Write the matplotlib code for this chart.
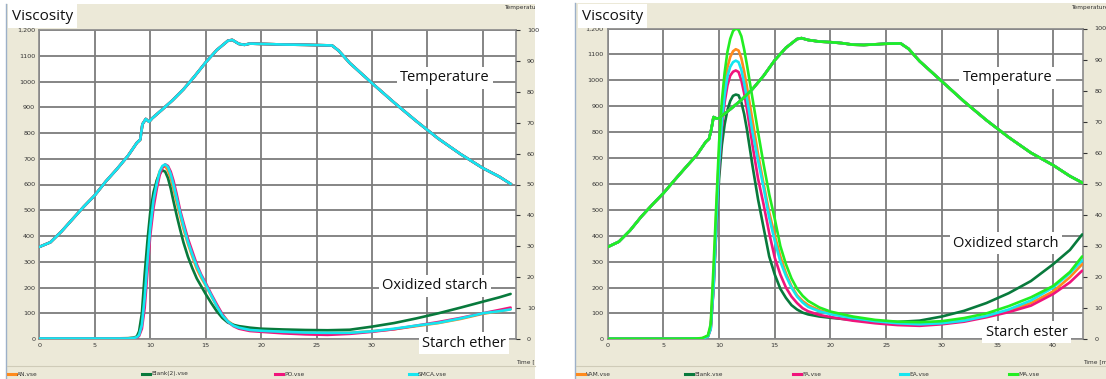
import matplotlib
matplotlib.use("Agg")
import matplotlib.pyplot as plt
from matplotlib.patches import Rectangle
from matplotlib.lines import Line2D

W, H = 1106, 379

# ---- left instrument run: viscosity (BU) against time (min) ----
time_l = [0, 2, 4, 6, 8, 8.5, 8.8, 9.0, 9.25, 9.5, 9.75, 10.0, 10.3, 10.6, 10.85, 11.1,
          11.35, 11.6, 11.85, 12.1, 12.4, 12.7, 13.0, 13.4, 13.8, 14.2, 14.6, 15.0, 15.5,
          16.0, 16.5, 17.0, 17.5, 18.0, 19.0, 20.0, 22.0, 24.0, 26.0, 28.0, 30.0, 32.0,
          34.0, 36.0, 38.0, 40.0, 41.5, 42.5]
an_visc = [2, 2, 2, 2, 3, 4, 8, 20, 70, 190, 330, 450, 550, 615, 650, 668,
           670, 655, 625, 585, 530, 478, 428, 370, 320, 272, 238, 208, 168,
           128, 95, 70, 55, 45, 36, 31, 27, 25, 24, 24, 30, 38,
           50, 62, 78, 98, 108, 116]
blank2_visc = [2, 2, 2, 2, 3, 5, 10, 30, 100, 250, 380, 490, 570, 617, 642, 655,
               650, 625, 585, 535, 478, 425, 375, 320, 275, 235, 205, 175, 140,
               108, 82, 64, 55, 50, 44, 40, 37, 35, 34, 36, 48, 62,
               80, 100, 122, 145, 162, 175]
po_visc = [2, 2, 2, 2, 2, 3, 5, 12, 40, 120, 260, 400, 510, 585, 635, 665,
           678, 672, 650, 615, 560, 500, 452, 390, 340, 290, 250, 218, 175,
           135, 97, 67, 50, 40, 31, 28, 22, 18, 16, 20, 28, 38,
           52, 66, 82, 100, 113, 122]
smca_visc = [2, 2, 2, 2, 2, 4, 7, 16, 55, 160, 300, 430, 540, 605, 650, 672,
             678, 668, 640, 600, 545, 490, 440, 378, 328, 282, 245, 212, 170,
             128, 92, 68, 52, 44, 35, 32, 28, 25, 24, 24, 30, 40,
             52, 63, 80, 100, 108, 115]

temp_time_l = [0, 1, 2, 3, 4, 5, 6, 7, 8, 8.8, 9.1, 9.3, 9.6, 9.9, 10.2, 11, 12, 13,
               14, 15, 16, 17, 17.4, 18, 18.5, 19, 20, 22, 24, 26.4, 27, 28, 30, 32,
               34, 36, 38, 40, 41.5, 42.5]
temp_l = [29.8, 31.3, 34.8, 38.8, 42.8, 46.5, 51.0, 55.0, 59.3, 63.5, 64.5, 69.5, 71.2,
          70.3, 71.5, 74.0, 77.2, 80.8, 85.0, 89.5, 93.5, 96.5, 96.8, 95.5, 95.2, 95.6,
          95.5, 95.3, 95.2, 95.0, 93.3, 89.3, 82.8, 76.5, 70.5, 64.8, 59.8, 55.3, 52.5, 50.2]

# ---- right instrument run ----
time_r = [0, 2, 4, 6, 8, 8.5, 9.0, 9.25, 9.5, 9.75, 10.0, 10.25, 10.5, 10.75, 11.0,
          11.25, 11.5, 11.75, 12.0, 12.25, 12.5, 12.75, 13.0, 13.5, 14.0, 14.5, 15.0,
          15.5, 16.0, 16.5, 17.0, 17.5, 18.0, 19.0, 20.0, 22.0, 24.0, 26.0, 28.0, 30.0,
          32.0, 34.0, 36.0, 38.0, 40.0, 41.5, 42.6]
vam_visc = [2, 2, 2, 2, 3, 4, 12, 50, 240, 490, 720, 880, 980, 1050, 1090,
            1112, 1120, 1115, 1085, 1035, 975, 910, 845, 715, 600, 490, 400,
            320, 255, 205, 170, 148, 132, 112, 100, 85, 72, 64, 60, 64,
            72, 88, 110, 140, 185, 240, 290]
blank_visc = [2, 2, 2, 2, 3, 3, 12, 45, 200, 420, 620, 750, 830, 885, 920,
              940, 945, 942, 915, 870, 810, 740, 670, 540, 430, 320, 250,
              195, 160, 132, 115, 103, 96, 88, 83, 75, 70, 67, 72, 88,
              110, 140, 178, 225, 290, 345, 405]
fa_visc = [2, 2, 2, 2, 3, 3, 10, 40, 190, 440, 660, 815, 915, 980, 1018,
           1033, 1038, 1032, 1000, 950, 890, 820, 750, 620, 520, 410, 315,
           250, 200, 165, 140, 120, 108, 94, 86, 72, 62, 55, 52, 58,
           68, 85, 105, 130, 175, 220, 265]
ea_visc = [2, 2, 2, 2, 3, 3, 10, 40, 200, 450, 680, 840, 945, 1015, 1052,
           1070, 1076, 1070, 1040, 990, 930, 865, 800, 690, 585, 470, 380,
           300, 245, 200, 165, 142, 125, 108, 97, 82, 70, 62, 58, 62,
           72, 90, 115, 150, 200, 255, 305]
ma_visc = [2, 2, 2, 2, 3, 5, 15, 60, 280, 520, 760, 920, 1030, 1110, 1160,
           1190, 1200, 1195, 1170, 1120, 1060, 995, 930, 800, 675, 560, 465,
           360, 290, 235, 195, 168, 148, 123, 107, 88, 75, 68, 66, 70,
           82, 100, 128, 162, 206, 260, 320]

temp_time_r = [0, 1, 2, 3, 4, 5, 6, 7, 8, 8.8, 9.1, 9.3, 9.5, 9.8, 10, 11, 12, 13, 14,
               15, 16, 17, 17.4, 18, 19, 20, 21, 22, 23, 24, 25, 26.3, 27, 28, 30, 32,
               34, 36, 38, 40, 41.5, 42.6]
temp_r = [29.7, 31.4, 35.0, 39.4, 43.3, 47.0, 51.2, 55.3, 59.3, 63.5, 64.5, 67.5, 71.5,
          71.0, 71.2, 74.0, 77.0, 80.5, 84.8, 89.8, 93.8, 96.6, 96.9, 96.3, 95.8, 95.6,
          95.3, 94.8, 94.7, 94.9, 95.1, 95.2, 93.5, 89.5, 83.0, 76.5, 70.5, 65.0, 60.0,
          56.0, 52.5, 50.4]

left_names = ["AN.vse", "Blank(2).vse", "PO.vse", "SMCA.vse"]
left_colors = ["#ff8a1c", "#087a3c", "#f0147c", "#14e6f0"]
left_series = [an_visc, blank2_visc, po_visc, smca_visc]

right_names = ["VAM.vse", "Blank.vse", "FA.vse", "EA.vse", "MA.vse"]
right_colors = ["#ff8a1c", "#087a3c", "#f0147c", "#14e6f0", "#22ee22"]
right_series = [vam_visc, blank_visc, fa_visc, ea_visc, ma_visc]

BEIGE = "#ece9d8"
GRID = "#7c7c7c"
SMALL = 4.6
LABEL_FONT = ["Open Sans", "DejaVu Sans"]


def fx(x):
    return x / W


def fy(y):
    return 1 - y / H


fig = plt.figure(figsize=(W / 100, H / 100), dpi=100)
fig.patch.set_facecolor("white")


def panel(x0, x1, top, ax_box, xmax, time, series, names, colors, temp_time, temp,
          legend_x, notes):
    bg = Rectangle((fx(x0), 0), fx(x1 - x0), fy(top), transform=fig.transFigure,
                   facecolor=BEIGE, edgecolor="none", zorder=0)
    fig.add_artist(bg)
    fig.add_artist(Line2D([fx(x0), fx(x0)], [0, fy(top)], color="#9cb0c8", lw=1.0))
    fig.add_artist(Line2D([fx(x0 + 1), fx(x1)], [fy(366), fy(366)], color="#cfcbb8", lw=0.8))

    ax = fig.add_axes(ax_box)
    ax.set_facecolor("white")
    ax.set_xlim(0, xmax)
    ax.set_ylim(0, 1200)
    ax.set_xticks(range(0, 45, 5))
    ax.set_yticks(range(0, 1300, 100))
    ax.set_yticklabels([str(v) for v in range(0, 1200, 100)] + ["1,200"])
    ax.tick_params(length=0, labelsize=SMALL, colors="#333333", pad=3)
    ax.grid(True, color=GRID, lw=1.3)
    for s in ax.spines.values():
        s.set_color("#8a8a8a")
        s.set_linewidth(1.2)

    for vals, c in zip(series, colors):
        ax.plot(time, vals, color=c, lw=1.9, solid_capstyle="round", zorder=3)

    tw = ax.twinx()
    tw.set_ylim(0, 100)
    tw.set_yticks(range(0, 110, 10))
    tw.tick_params(axis="y", length=3, width=0.8, labelsize=SMALL, colors="#333333", pad=5)
    for s in tw.spines.values():
        s.set_visible(False)
    for c in colors:
        tw.plot(temp_time, temp, color=c, lw=1.9, zorder=3)

    for txt, tx, ty in notes:
        ax.text(tx, ty, txt, ha="center", va="center", fontsize=10.5, family=LABEL_FONT,
                color="#111111", zorder=6, clip_on=False,
                bbox=dict(facecolor="white", edgecolor="none", pad=2.5))

    right_edge = ax_box[0] + ax_box[2]
    t1 = fig.text(right_edge - fx(12), fy(8), "Temperature [°C]", fontsize=SMALL - 0.4,
                  color="#333333", va="center", ha="left")
    t1.set_clip_path(bg)
    t2 = fig.text(right_edge, fy(362), "Time [min]", fontsize=SMALL - 0.4,
                  color="#333333", va="center", ha="left")
    t2.set_clip_path(bg)

    for name, c, lx in zip(names, colors, legend_x):
        fig.add_artist(Line2D([fx(lx), fx(lx + 8)], [fy(374), fy(374)], color=c, lw=2.2))
        fig.text(fx(lx + 9), fy(374), name, fontsize=SMALL - 0.4, color="#333333",
                 va="center", ha="left")
    return ax


panel(6, 535, 4, [fx(39.3), fy(339), fx(476.4), 309 / H], 42.96,
      time_l, left_series, left_names, left_colors, temp_time_l, temp_l,
      [8, 142, 275, 409],
      [("Temperature", 36.6, 1014), ("Oxidized starch", 35.7, 206),
       ("Starch ether", 38.3, -16)])

panel(575, 1106, 3, [fx(607.7), fy(339.3), fx(475.6), 310.8 / H], 42.7,
      time_r, right_series, right_names, right_colors, temp_time_r, temp_r,
      [577, 685, 793, 900, 1009],
      [("Temperature", 35.9, 1009), ("Oxidized starch", 35.76, 371),
       ("Starch ester", 37.6, 28)])

# "Viscosity" captions over the top-left corner of each chart
for x0 in (8, 578):
    fig.text(fx(x0 + 4), fy(16), "Viscosity", fontsize=11, family=LABEL_FONT,
             color="#111111", va="center", ha="left",
             bbox=dict(facecolor="white", edgecolor="none", pad=3))

fig.savefig("out.png", dpi=100, facecolor=fig.get_facecolor())
